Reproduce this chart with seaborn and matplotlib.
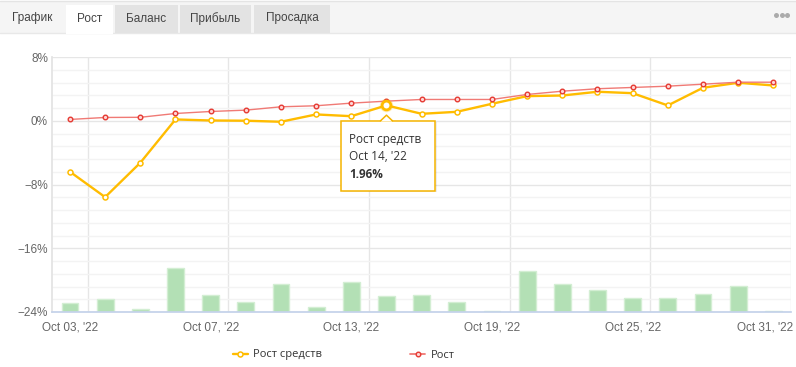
import numpy as np
import pandas as pd
import seaborn as sns
import matplotlib.pyplot as plt
from matplotlib.patches import Rectangle, Polygon
from matplotlib.lines import Line2D
from matplotlib.transforms import IdentityTransform, ScaledTranslation

# data (trading days of Oct 2022)
dates = ["Oct 03, '22", "Oct 04, '22", "Oct 05, '22", "Oct 06, '22", "Oct 07, '22",
         "Oct 10, '22", "Oct 11, '22", "Oct 12, '22", "Oct 13, '22", "Oct 14, '22",
         "Oct 17, '22", "Oct 18, '22", "Oct 19, '22", "Oct 20, '22", "Oct 21, '22",
         "Oct 24, '22", "Oct 25, '22", "Oct 26, '22", "Oct 27, '22", "Oct 28, '22",
         "Oct 31, '22"]
equity = [-6.38, -9.57, -5.25, 0.19, 0.06, 0.03, -0.10, 0.82, 0.60, 1.96,
          0.90, 1.15, 2.16, 3.12, 3.20, 3.67, 3.49, 1.95, 4.17, 4.80, 4.46]
growth = [0.19, 0.44, 0.46, 0.94, 1.19, 1.36, 1.78, 1.91, 2.24, 2.49,
          2.70, 2.70, 2.70, 3.33, 3.74, 4.05, 4.21, 4.37, 4.62, 4.87, 4.87]
volume = [3.4, 5.0, 1.1, 17.2, 6.6, 3.8, 10.9, 1.8, 11.7, 6.2,
          6.6, 3.8, 0.4, 16.0, 10.9, 8.5, 5.6, 5.6, 6.9, 10.1, 0.3]
yticks = [-24, -16, -8, 0, 8]
tabs = ["График", "Рост", "Баланс", "Прибыль", "Просадка"]
hover = 9

df = pd.DataFrame({"idx": range(len(dates)), "date": dates, "equity": equity,
                   "growth": growth, "volume": volume})

sns.set_theme(style="white")
plt.rcParams['font.family'] = ['Liberation Sans', 'DejaVu Sans']

YEL = "#ffbc00"
RED = "#e53a32"
SANS = ["Open Sans", "Noto Sans", "DejaVu Sans"]

fig = plt.figure(figsize=(7.96, 3.67), dpi=100)
ax = fig.add_axes([0.0658, 0.1499, 0.9278, 0.694])
ax2 = ax.twinx()

# bars (secondary axis, hidden scale)
sns.barplot(data=df, x="idx", y="volume", ax=ax2, color="#b3e0b5", width=0.48,
            edgecolor="#d3eed3", linewidth=1, saturation=1)
ax2.set_ylim(0, 100)
ax2.set_yticks([])
ax2.set_ylabel("")
for s in ["top", "right", "left"]:
    ax2.spines[s].set_visible(False)
ax2.spines["bottom"].set_color("#c4d2ea")

# lines
sns.lineplot(data=df, x="idx", y="equity", ax=ax, color=YEL, lw=1.7, marker="o",
             markersize=3.6, markerfacecolor="white", markeredgecolor=YEL,
             markeredgewidth=1.1, zorder=3, legend=False)
sns.lineplot(data=df, x="idx", y="growth", ax=ax, color="#f07a75", lw=1.0, marker="o",
             markersize=3.3, markerfacecolor="#ffd6d6", markeredgecolor=RED,
             markeredgewidth=1.0, zorder=4, legend=False)

# hovered point
ax.scatter([hover], [equity[hover]], s=95, color="#ffe9a6", alpha=0.8, zorder=2.5, lw=0)
ax.plot([hover], [equity[hover]], "o", ms=6.3, mfc="white", mec=YEL, mew=2.0, zorder=5)

ax.set_xlim(-0.5, len(dates) - 0.5)
ax.set_ylim(-24, 8)
ax.set_yticks(yticks)
ax.set_yticklabels([f"{v}%".replace("-", "\u2212") for v in yticks])
ax.set_yticks(np.arange(-24, 8.01, 1.6), minor=True)
xt = list(range(0, len(dates), 4))
ax.set_xticks(xt)
ax.set_xticklabels([dates[i] for i in xt])
ax.set_xticks([i + 0.5 for i in xt], minor=True)
ax.set_xlabel("")
ax.set_ylabel("")
ax.grid(which="major", axis="y", color="#e6e6e6", lw=1)
ax.grid(which="minor", axis="y", color="#f3f3f3", lw=1)
ax.grid(which="minor", axis="x", color="#e6e6e6", lw=1)
ax.tick_params(which="both", length=0)
ax.tick_params(axis="y", pad=3.2, labelsize=8.5, labelcolor="#666666")
ax.tick_params(axis="x", pad=6.5, labelsize=8.5, labelcolor="#666666")
for s in ["top", "right", "bottom"]:
    ax.spines[s].set_visible(False)
ax.spines["left"].set_color("#e3e3e3")
last = ax.get_xticklabels()[-1]
last.set_transform(last.get_transform() + ScaledTranslation(-8 / 100, 0, fig.dpi_scale_trans))

# tooltip
fig.canvas.draw()
px, py = ax.transData.transform((hover, equity[hover]))
idt = IdentityTransform()
fig.add_artist(Rectangle((px - 43, py - 87), 94, 70, transform=idt, fc="#000000",
                         alpha=0.07, ec="none", zorder=8))
fig.add_artist(Rectangle((px - 45, py - 85.5), 94, 70, transform=idt, fc="white",
                         ec="#f5b400", lw=1.1, zorder=9))
fig.add_artist(Polygon([(px - 6, py - 16.2), (px, py - 10), (px + 6, py - 16.2)],
                       transform=idt, fc="white", ec="none", zorder=10))
fig.add_artist(Line2D([px - 6, px, px + 6], [py - 15.5, py - 9.8, py - 15.5], transform=idt,
                      color="#f5b400", lw=1.1, zorder=10))
tip = dict(transform=idt, family=SANS, fontsize=8.5,
           color="#333333", va="center", ha="left", zorder=11)
fig.text(px - 37, py - 34, "Рост средств", **tip)
fig.text(px - 37, py - 51, dates[hover], **tip)
fig.text(px - 37, py - 69, f"{equity[hover]:.2f}%", fontweight="bold", **tip)

# legend
handles = [Line2D([], [], color=YEL, lw=1.7, marker="o", ms=3.6, mfc="white", mec=YEL, mew=1.1),
           Line2D([], [], color="#f07a75", lw=1.3, marker="o", ms=3.3, mfc="#ffd6d6", mec=RED, mew=1.0)]
fig.legend(handles, ["Рост средств", "Рост"], loc="center", bbox_to_anchor=(343.5 / 796, 12 / 367),
           ncol=2, frameon=False, handlelength=1.35, handletextpad=0.45, columnspacing=8,
           prop={"family": SANS, "size": 8}, labelcolor="#333333")

# tab strip
H = 367
fig.add_artist(Rectangle((0, H - 33), 796, 32, transform=idt, fc="#f5f5f5", ec="none", zorder=1))
fig.add_artist(Line2D([0, 796], [H - 0.5, H - 0.5], transform=idt, color="#e4e4e4", lw=1, zorder=2))
fig.add_artist(Line2D([0, 796], [H - 33, H - 33], transform=idt, color="#e8e8e8", lw=1, zorder=2))
tab_x = [(12, 52), (66, 113), (115, 178), (180, 251), (254, 330)]
for i, (name, (x0, x1)) in enumerate(zip(tabs, tab_x)):
    if i == 1:
        fig.add_artist(Rectangle((x0, H - 34), x1 - x0, 29, transform=idt, fc="white", ec="none", zorder=3))
    elif i > 1:
        fig.add_artist(Rectangle((x0, H - 32.5), x1 - x0, 27.5, transform=idt, fc="#e3e3e3", ec="none", zorder=3))
    fig.text((x0 + x1) / 2, H - 18.5, name, transform=idt, ha="center", va="center",
             fontsize=8.5, color="#444444", zorder=4)
fig.add_artist(Line2D([776, 781.5, 787], [H - 15, H - 15, H - 15], transform=idt, ls="none",
                      marker="o", ms=3.6, color="#ababab", mec="none", zorder=4))

fig.savefig("out.png", dpi=100)
